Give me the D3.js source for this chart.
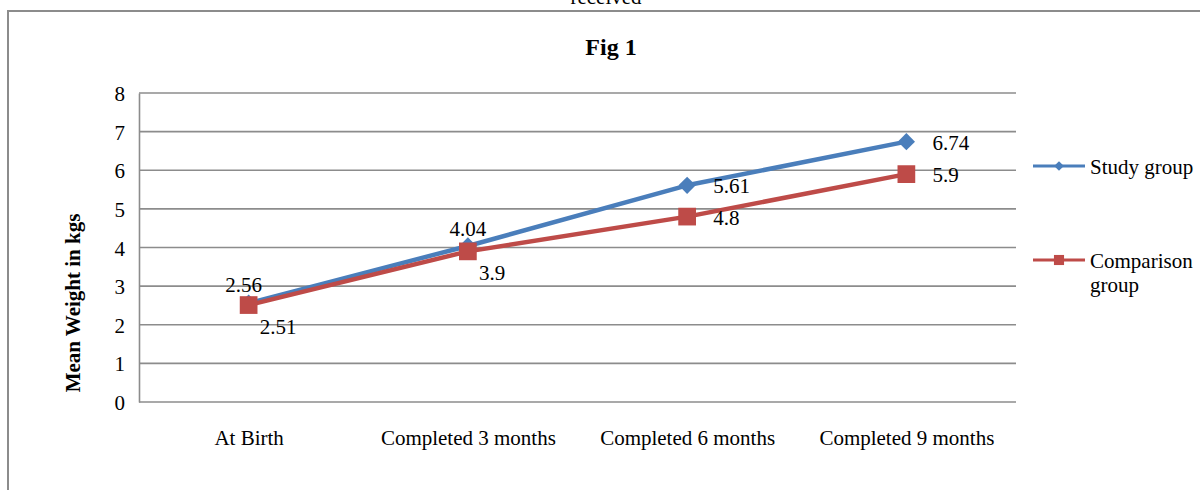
<!DOCTYPE html>
<html>
<head>
<meta charset="utf-8">
<script src="https://cdn.jsdelivr.net/npm/d3@7"></script>
<style>
  html, body { margin: 0; padding: 0; background: #fff; }
  svg { display: block; font-family: "Liberation Serif", "Times New Roman", serif; }
</style>
</head>
<body>
<svg id="chart" width="1200" height="490"></svg>
<script>
// Mean weight (kg) at each follow-up point
const categories = ["At Birth", "Completed 3 months", "Completed 6 months", "Completed 9 months"];
const studyGroup = [2.56, 4.04, 5.61, 6.74];
const comparisonGroup = [2.51, 3.9, 4.8, 5.9];
const yTicks = [0, 1, 2, 3, 4, 5, 6, 7, 8];
const seriesNames = ["Study group", "Comparison group"];

// where each data label sits relative to its point
const studyLabelPlace = ["aboveLeft", "above", "right", "right"];
const comparisonLabelPlace = ["belowRight", "belowRight", "right", "right"];

const svg = d3.select("#chart");
const W = 1200, H = 490;
const plot = { left: 139, right: 1016, top: 93, bottom: 402 };
const fontSize = 21;

const blue = "#4A7EBB";
const red = "#BE4B48";
const gridColor = "#8c8c8c";

// outer frame (continues past the right and bottom edges)
svg.append("rect")
  .attr("x", 8).attr("y", 11)
  .attr("width", W).attr("height", H)
  .attr("fill", "none").attr("stroke", "#8c8c8c").attr("stroke-width", 2);

// caption line above the frame, running off the top edge
svg.append("text")
  .attr("x", 606).attr("y", 4)
  .attr("text-anchor", "middle")
  .attr("font-size", fontSize)
  .text("received");

svg.append("text")
  .attr("x", 611).attr("y", 55)
  .attr("text-anchor", "middle")
  .attr("font-size", 24).attr("font-weight", "bold")
  .text("Fig 1");

const x = d3.scalePoint().domain(categories).range([plot.left, plot.right]).padding(0.5);
const y = d3.scaleLinear().domain([0, 8]).range([plot.bottom, plot.top]);

// horizontal gridlines
svg.append("g")
  .selectAll("line")
  .data(yTicks)
  .join("line")
  .attr("x1", plot.left).attr("x2", plot.right)
  .attr("y1", d => y(d)).attr("y2", d => y(d))
  .attr("stroke", gridColor).attr("stroke-width", 1.6);

// y axis
const yAxis = svg.append("g")
  .attr("transform", `translate(${plot.left},0)`)
  .call(d3.axisLeft(y).tickValues(yTicks).tickSize(0).tickPadding(14).tickFormat(d3.format("d")));
yAxis.select(".domain").attr("stroke", gridColor).attr("stroke-width", 1.6);
yAxis.selectAll("text")
  .attr("font-family", "Liberation Serif, Times New Roman, serif")
  .attr("font-size", fontSize).attr("fill", "#000").attr("dy", "0.36em");

// x axis labels
const xAxis = svg.append("g")
  .attr("transform", `translate(0,${plot.bottom})`)
  .call(d3.axisBottom(x).tickSize(0).tickPadding(43));
xAxis.select(".domain").remove();
xAxis.selectAll("text")
  .attr("font-family", "Liberation Serif, Times New Roman, serif")
  .attr("font-size", fontSize).attr("fill", "#000").attr("dy", "0");

// y axis title
svg.append("text")
  .attr("transform", "translate(80,303) rotate(-90)")
  .attr("text-anchor", "middle")
  .attr("font-size", fontSize).attr("font-weight", "bold")
  .text("Mean Weight in kgs");

const line = d3.line()
  .x((d, i) => x(categories[i]))
  .y(d => y(d));

const diamond = d3.symbol().type(d3.symbolDiamond2);
const square = d3.symbol().type(d3.symbolSquare2);

// study group drawn first, comparison group on top of it
function drawSeries(values, color, marker, markerSize) {
  const g = svg.append("g");
  g.append("path")
    .datum(values)
    .attr("d", line)
    .attr("fill", "none")
    .attr("stroke", color)
    .attr("stroke-width", 4.5)
    .attr("stroke-linejoin", "round");
  g.selectAll("path.mk")
    .data(values)
    .join("path")
    .attr("class", "mk")
    .attr("transform", (d, i) => `translate(${x(categories[i])},${y(d)})`)
    .attr("d", marker.size(markerSize)())
    .attr("fill", color);
}
drawSeries(studyGroup, blue, diamond, 190);
drawSeries(comparisonGroup, red, square, 400);

// data labels
function placeLabel(px, py, place) {
  switch (place) {
    case "aboveLeft": return { x: px - 5, y: py - 11, anchor: "middle" };
    case "above": return { x: px, y: py - 10, anchor: "middle" };
    case "belowRight": return { x: px + 11, y: py + 29, anchor: "start" };
    default: return { x: px + 26, y: py + 8, anchor: "start" };
  }
}
function drawLabels(values, places) {
  svg.append("g")
    .selectAll("text")
    .data(values)
    .join("text")
    .each(function (d, i) {
      const p = placeLabel(x(categories[i]), y(d), places[i]);
      d3.select(this)
        .attr("x", p.x).attr("y", p.y)
        .attr("text-anchor", p.anchor);
    })
    .attr("font-size", fontSize)
    .text(d => d);
}
drawLabels(studyGroup, studyLabelPlace);
drawLabels(comparisonGroup, comparisonLabelPlace);

// legend
const legend = svg.append("g");
const legendRows = [
  { color: blue, marker: diamond, size: 60, y: 166, lines: ["Study group"] },
  { color: red, marker: square, size: 130, y: 260, lines: ["Comparison", "group"] }
];
legendRows.forEach(r => {
  legend.append("line")
    .attr("x1", 1033).attr("x2", 1085)
    .attr("y1", r.y).attr("y2", r.y)
    .attr("stroke", r.color).attr("stroke-width", 3);
  legend.append("path")
    .attr("transform", `translate(1059,${r.y})`)
    .attr("d", r.marker.size(r.size)())
    .attr("fill", r.color);
  const t = legend.append("text")
    .attr("x", 1090).attr("y", r.y + 8)
    .attr("font-size", fontSize);
  r.lines.forEach((s, k) => {
    t.append("tspan").attr("x", 1090).attr("dy", k === 0 ? 0 : 24).text(s);
  });
});
</script>
</body>
</html>
